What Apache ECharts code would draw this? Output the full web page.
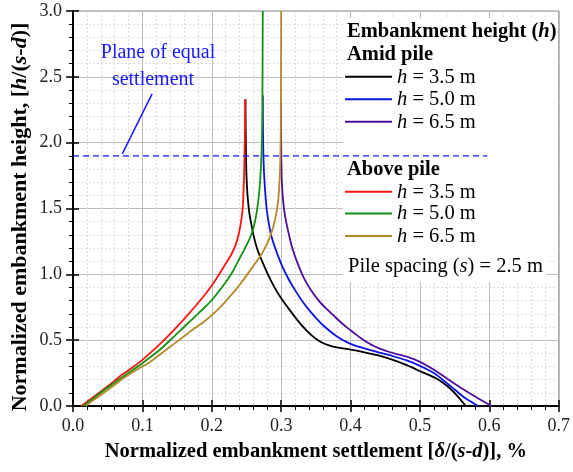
<!DOCTYPE html>
<html>
<head>
<meta charset="utf-8">
<script src="https://cdn.jsdelivr.net/npm/echarts@6/dist/echarts.min.js"></script>
<style>
  html, body { margin: 0; padding: 0; background: #ffffff; }
  #chart { width: 573px; height: 472px; }
</style>
</head>
<body>
<div id="chart"></div>
<script>
// Normalized settlement δ/(s-d) [%] vs normalized height h/(s-d), pile spacing s = 2.5 m

const xTickLabels = ['0.0', '0.1', '0.2', '0.3', '0.4', '0.5', '0.6', '0.7'];
const yTickLabels = ['0.0', '0.5', '1.0', '1.5', '2.0', '2.5', '3.0'];

// Amid pile
const amid35 = [[0.2486,2.33],[0.2488,2.15],[0.2492,1.95],[0.25,1.75],[0.2515,1.6],[0.254,1.47],[0.257,1.38],[0.26,1.3],[0.265,1.2],[0.27,1.13],[0.28,1.01],[0.29,0.905],[0.3,0.818],[0.31,0.745],[0.32,0.675],[0.33,0.61],[0.34,0.555],[0.35,0.51],[0.36,0.478],[0.37,0.458],[0.38,0.445],[0.40,0.428],[0.42,0.408],[0.44,0.384],[0.46,0.352],[0.48,0.312],[0.50,0.265],[0.525,0.205],[0.543,0.135],[0.555,0.07],[0.566,0]];
const amid50 = [[0.2735,2.36],[0.2737,2.15],[0.2742,1.95],[0.2755,1.75],[0.279,1.5],[0.285,1.31],[0.29,1.22],[0.3,1.08],[0.31,0.97],[0.32,0.88],[0.33,0.8],[0.34,0.73],[0.35,0.67],[0.36,0.615],[0.37,0.57],[0.38,0.53],[0.39,0.497],[0.40,0.472],[0.42,0.437],[0.44,0.408],[0.46,0.38],[0.48,0.348],[0.50,0.305],[0.52,0.25],[0.535,0.19],[0.55,0.125],[0.565,0.06],[0.584,0]];
const amid65 = [[0.2995,2.3],[0.2998,2.1],[0.3002,1.9],[0.301,1.7],[0.303,1.55],[0.306,1.43],[0.31,1.33],[0.316,1.2],[0.324,1.08],[0.333,0.97],[0.343,0.88],[0.355,0.795],[0.365,0.74],[0.375,0.69],[0.385,0.64],[0.395,0.595],[0.405,0.555],[0.415,0.515],[0.425,0.48],[0.435,0.452],[0.445,0.43],[0.455,0.412],[0.47,0.39],[0.485,0.367],[0.50,0.335],[0.52,0.275],[0.54,0.205],[0.56,0.135],[0.58,0.07],[0.603,0]];

// Above pile
const above35 = [[0.012,0],[0.03,0.07],[0.05,0.15],[0.07,0.235],[0.085,0.29],[0.1,0.35],[0.115,0.42],[0.13,0.495],[0.145,0.575],[0.16,0.66],[0.175,0.75],[0.19,0.845],[0.2,0.915],[0.21,0.995],[0.22,1.08],[0.229,1.16],[0.236,1.25],[0.241,1.36],[0.2445,1.5],[0.2462,1.7],[0.2472,1.9],[0.2478,2.1],[0.248,2.33]];
const above50 = [[0.015,0],[0.03,0.06],[0.05,0.14],[0.07,0.215],[0.085,0.27],[0.1,0.325],[0.115,0.385],[0.13,0.45],[0.145,0.525],[0.16,0.6],[0.175,0.675],[0.19,0.75],[0.2,0.805],[0.21,0.87],[0.22,0.94],[0.23,1.02],[0.24,1.12],[0.25,1.22],[0.2576,1.31],[0.263,1.42],[0.267,1.56],[0.2698,1.72],[0.2718,1.94],[0.2728,2.2],[0.2732,2.6],[0.2735,3.0]];
const above65 = [[0.018,0],[0.035,0.065],[0.055,0.14],[0.075,0.22],[0.09,0.27],[0.1,0.3],[0.115,0.35],[0.13,0.41],[0.145,0.47],[0.16,0.53],[0.175,0.59],[0.19,0.645],[0.2,0.69],[0.21,0.74],[0.22,0.795],[0.23,0.855],[0.24,0.92],[0.25,0.99],[0.26,1.065],[0.27,1.14],[0.278,1.215],[0.285,1.3],[0.291,1.41],[0.2957,1.56],[0.298,1.75],[0.2992,2.0],[0.2997,2.4],[0.2999,3.0]];

// Plane of equal settlement
const planeHeight = 1.9;
const planeExtent = [0, 0.597];
const arrowFrom = [0.114, 2.37];
const arrowTo = [0.071, 1.915];

const SERIF = '"Liberation Serif", "DejaVu Serif", serif';
const colors = {
  a35: '#000000', a50: '#0a14dc', a65: '#4e0f9e',
  b35: '#ff1414', b50: '#129212', b65: '#b4892a',
  plane: '#1a1aff'
};

const chart = echarts.init(document.getElementById('chart'), null, { renderer: 'canvas' });

function curve(name, data, color) {
  return {
    name: name, type: 'line', data: data, showSymbol: false, symbol: 'none',
    smooth: 0.3, z: 4,
    lineStyle: { color: color, width: 1.8 }, silent: true
  };
}

function richSet(size) {
  return {
    n: { fontFamily: SERIF, fontSize: size, color: '#000' },
    i: { fontFamily: SERIF, fontStyle: 'italic', fontSize: size, color: '#000' },
    b: { fontFamily: SERIF, fontWeight: 'bold', fontSize: size, color: '#000' },
    bi: { fontFamily: SERIF, fontWeight: 'bold', fontStyle: 'italic', fontSize: size, color: '#000' }
  };
}
const richItem = richSet(20.5);
const richXTitle = richSet(20.5);
const richYTitle = richSet(22);

// Legend panel
const legendX = 345, lineLen = 47, textX = 397;
const legendRows = [
  { y: 76.7, color: colors.a35, label: '3.5' },
  { y: 99.3, color: colors.a50, label: '5.0' },
  { y: 121.7, color: colors.a65, label: '6.5' },
  { y: 191.7, color: colors.b35, label: '3.5' },
  { y: 213.6, color: colors.b50, label: '5.0' },
  { y: 236, color: colors.b65, label: '6.5' }
];
const graphics = [
  { type: 'rect', shape: { x: 343, y: 18, width: 215, height: 234 }, style: { fill: '#ffffff' }, z: 1, silent: true },
  { type: 'rect', shape: { x: 343, y: 252, width: 204, height: 30 }, style: { fill: '#ffffff' }, z: 1, silent: true },
  { type: 'text', x: 347, y: 32, z: 5, style: { text: '{b|Embankment height (}{bi|h}{b|)}', rich: richItem, verticalAlign: 'middle' } },
  { type: 'text', x: 347, y: 55, z: 5, style: { text: '{b|Amid pile}', rich: richItem, verticalAlign: 'middle' } },
  { type: 'text', x: 347, y: 169.5, z: 5, style: { text: '{b|Above pile}', rich: richItem, verticalAlign: 'middle' } },
  { type: 'text', x: 348, y: 267, z: 5, style: { text: '{n|Pile spacing (}{i|s}{n|) = 2.5 m}', rich: richItem, verticalAlign: 'middle' } },
  { type: 'text', x: 158, y: 53, z: 5, style: { text: 'Plane of equal', fontFamily: SERIF, fontSize: 20, fill: colors.plane, align: 'center', verticalAlign: 'middle' } },
  { type: 'text', x: 153, y: 80, z: 5, style: { text: 'settlement', fontFamily: SERIF, fontSize: 20, fill: colors.plane, align: 'center', verticalAlign: 'middle' } },
  // vertical axis title
  { type: 'text', x: 20, y: 217, rotation: Math.PI / 2, z: 5,
    style: { text: '{b|Normalized embankment height, [}{bi|h}{b|/(}{bi|s}{b|-}{bi|d}{b|)]}', rich: richYTitle, align: 'center', verticalAlign: 'middle' } }
];
legendRows.forEach(function (r) {
  graphics.push({ type: 'line', z: 5, shape: { x1: legendX, y1: r.y, x2: legendX + lineLen, y2: r.y }, style: { stroke: r.color, lineWidth: 2 } });
  graphics.push({ type: 'text', x: textX, y: r.y + 0.5, z: 5, style: { text: '{i|h}{n| = ' + r.label + ' m}', rich: richItem, verticalAlign: 'middle' } });
});

const option = {
  backgroundColor: '#ffffff',
  animation: false,
  grid: { left: 73, right: 10, top: 11, bottom: 66, show: true, borderColor: '#8c8c8c', borderWidth: 1, backgroundColor: 'transparent' },
  xAxis: [{
    type: 'value', min: 0, max: 0.7, interval: 0.1,
    name: '{b|Normalized embankment settlement [}{bi|δ}{b|/(}{bi|s}{b|-}{bi|d}{b|)], %}',
    nameLocation: 'middle', nameGap: 35,
    nameTextStyle: { rich: richXTitle },
    axisLine: { show: true, onZero: false, lineStyle: { color: '#000', width: 2 } },
    axisTick: { show: true, length: 6, lineStyle: { color: '#000', width: 1.5 } },
    minorTick: { show: true, splitNumber: 5, length: 4, lineStyle: { color: '#000', width: 1 } },
    axisLabel: { fontFamily: SERIF, fontSize: 18, color: '#222', margin: 11,
      formatter: function (v) { return xTickLabels[Math.round(v * 10)]; } },
    splitLine: { show: true, lineStyle: { color: '#bdbdbd', width: 1 } },
    minorSplitLine: { show: true, lineStyle: { color: '#dcdcdc', width: 1, type: [2, 2] } }
  }, {
    type: 'value', min: 0, max: 0.7, interval: 0.1, position: 'bottom',
    axisLine: { show: false }, axisLabel: { show: false }, splitLine: { show: false },
    axisTick: { show: true, inside: true, length: 6, lineStyle: { color: '#000', width: 1.5 } }
  }],
  yAxis: [{
    type: 'value', min: 0, max: 3, interval: 0.5,
    axisLine: { show: true, onZero: false, lineStyle: { color: '#000', width: 2 } },
    axisTick: { show: true, length: 7, lineStyle: { color: '#000', width: 1.5 } },
    minorTick: { show: true, splitNumber: 5, length: 4, lineStyle: { color: '#000', width: 1 } },
    axisLabel: { fontFamily: SERIF, fontSize: 18, color: '#222', margin: 11,
      formatter: function (v) { return yTickLabels[Math.round(v * 2)]; } },
    splitLine: { show: true, lineStyle: { color: '#bdbdbd', width: 1 } },
    minorSplitLine: { show: true, lineStyle: { color: '#dcdcdc', width: 1, type: [2, 2] } }
  }, {
    type: 'value', min: 0, max: 3, interval: 0.5, position: 'left',
    axisLine: { show: false }, axisLabel: { show: false }, splitLine: { show: false },
    axisTick: { show: true, inside: true, length: 6, lineStyle: { color: '#000', width: 1.5 } }
  }],
  graphic: graphics,
  series: [
    curve('Amid pile, h = 3.5 m', amid35, colors.a35),
    curve('Amid pile, h = 5.0 m', amid50, colors.a50),
    curve('Amid pile, h = 6.5 m', amid65, colors.a65),
    curve('Above pile, h = 3.5 m', above35, colors.b35),
    curve('Above pile, h = 5.0 m', above50, colors.b50),
    curve('Above pile, h = 6.5 m', above65, colors.b65),
    {
      name: 'Plane of equal settlement', type: 'line', z: 6, silent: true,
      data: [[planeExtent[0], planeHeight], [planeExtent[1], planeHeight]],
      showSymbol: false, symbol: 'none',
      lineStyle: { color: colors.plane, width: 1.4, type: [6, 4] },
      markLine: {
        silent: true, symbol: ['none', 'arrow'], symbolSize: [0, 12],
        label: { show: false },
        lineStyle: { color: colors.plane, width: 1.5, type: 'solid' },
        data: [[{ coord: arrowFrom }, { coord: arrowTo }]]
      }
    }
  ]
};

chart.setOption(option);
</script>
</body>
</html>
